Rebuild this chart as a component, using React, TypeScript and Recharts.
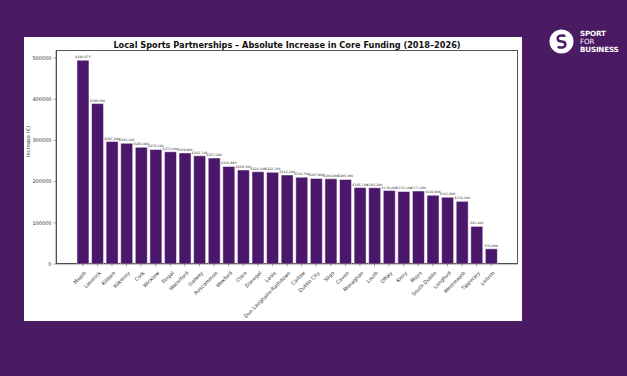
import { BarChart, Bar, XAxis, YAxis, LabelList } from 'recharts';

const COUNTIES = [
  'Meath', 'Limerick', 'Kildare', 'Kilkenny', 'Cork', 'Wicklow', 'Fingal', 'Waterford', 'Galway', 'Roscommon',
  'Wexford', 'Clare', 'Donegal', 'Laois', 'Dun Laoghaire-Rathdown', 'Carlow', 'Dublin City', 'Sligo', 'Cavan',
  'Monaghan', 'Louth', 'Offaly', 'Kerry', 'Mayo', 'South Dublin', 'Longford', 'Westmeath', 'Tipperary', 'Leitrim',
];

const INCREASE = [
  494873, 389500, 297200, 293100, 283400, 278100, 272600, 269800, 262748, 257200,
  236900, 228300, 224100, 222700, 216100, 210700, 207900, 206900, 205300,
  185700, 185200, 178400, 176100, 177200, 166900, 161900, 152100, 91400, 36900,
];

const Y_TICKS = [0, 100000, 200000, 300000, 400000, 500000];

const PURPLE = '#4a1a62';
const BAR = '#4b176b';
const FONT = '"DejaVu Sans", sans-serif';

const data = COUNTIES.map((county, i) => ({ county, value: INCREASE[i] }));

const euro = (v: number) => '€' + v.toLocaleString('en-US');

function RotTick({ x, y, payload }: { x?: number; y?: number; payload?: { value: string } }) {
  return (
    <g transform={`translate(${(x ?? 0) + 1},${(y ?? 0) + 2})`}>
      <text transform="rotate(-45)" textAnchor="end" dominantBaseline="hanging" fontSize={5} fill="#333" fontFamily={FONT}>
        {payload?.value}
      </text>
    </g>
  );
}

function Logo() {
  return (
    <div style={{ position: 'absolute', left: 549, top: 29, display: 'flex', alignItems: 'center', gap: 6 }}>
      <svg width={25} height={25} viewBox="0 0 26 26">
        <circle cx={13} cy={13} r={12.5} fill="#fff" />
        <path d="M16 7 Q9 6 9 10 Q9 13 13 13 Q17 13 17 16 Q17 20 10 19" stroke={PURPLE} strokeWidth={2.6} fill="none" strokeLinecap="round" />
      </svg>
      <div style={{ color: '#fff', fontFamily: FONT, fontWeight: 700, fontSize: 7.2, lineHeight: '8px', letterSpacing: -0.2 }}>
        <div>SPORT</div>
        <div style={{ fontWeight: 400 }}>FOR</div>
        <div>BUSINESS</div>
      </div>
    </div>
  );
}

export default function App() {
  return (
    <div style={{ position: 'fixed', left: 0, top: 0, width: 627, height: 376, background: PURPLE, overflow: 'hidden' }}>
      <Logo />
      <div style={{ position: 'absolute', left: 24, top: 37, width: 498, height: 284, background: '#fff' }}>
        <div style={{ position: 'absolute', left: 32, width: 462, top: 3, textAlign: 'center', fontFamily: FONT, fontWeight: 700, fontSize: 8.2, color: '#111' }}>
          Local Sports Partnerships – Absolute Increase in Core Funding (2018–2026)
        </div>
        <div style={{ position: 'absolute', left: 32, top: 13, width: 462, height: 214, boxSizing: 'border-box', border: '0.7px solid #555' }} />
        <BarChart width={498} height={284} data={data} margin={{ top: 13, right: 4, left: 0, bottom: 0 }} barCategoryGap="10%" style={{ position: 'absolute', left: 0, top: 0 }}>
          <XAxis
            dataKey="county"
            interval={0}
            height={57}
            padding={{ left: 19.5, right: 19.5 }}
            tick={<RotTick />}
            tickSize={2.5}
            axisLine={{ stroke: '#444', strokeWidth: 0.6 }}
            tickLine={{ stroke: '#444', strokeWidth: 0.5 }}
          />
          <YAxis
            width={32}
            domain={[0, 519617]}
            ticks={Y_TICKS}
            interval={0}
            tickSize={2.5}
            tick={{ fontSize: 5, fill: '#333', fontFamily: FONT }}
            axisLine={{ stroke: '#444', strokeWidth: 0.6 }}
            tickLine={{ stroke: '#444', strokeWidth: 0.5 }}
            label={{ value: 'Increase (€)', angle: -90, position: 'insideLeft', offset: 0, dx: 4, fontSize: 5.2, fill: '#333', fontFamily: FONT }}
          />
          <Bar dataKey="value" fill={BAR} stroke="#fff" strokeWidth={0.5} isAnimationActive={false}>
            <LabelList dataKey="value" position="top" offset={2} formatter={(v: number) => euro(v)} style={{ fontSize: 3.2, fill: '#333', fontFamily: FONT }} />
          </Bar>
        </BarChart>
      </div>
    </div>
  );
}
